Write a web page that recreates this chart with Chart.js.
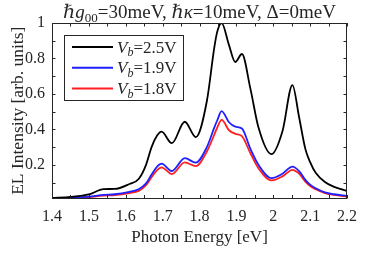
<!DOCTYPE html>
<html>
<head>
<meta charset="utf-8">
<script src="https://cdn.jsdelivr.net/npm/chart.js@4.4.1/dist/chart.umd.min.js"></script>
<style>
  html, body { margin: 0; padding: 0; background: #fff; }
  #wrap { width: 366px; height: 268px; }
</style>
</head>
<body>
<div id="wrap"><canvas id="myChart"></canvas></div>
<script>
// photon energy in eV (x axis)
var energy = [1.40, 1.45, 1.50, 1.54, 1.57, 1.61, 1.635, 1.655, 1.67, 1.685, 1.697, 1.725, 1.76, 1.79, 1.82, 1.84, 1.848,
              1.86, 1.88, 1.897, 1.915, 1.938, 1.96, 1.995, 2.025, 2.052, 2.07, 2.087, 2.10, 2.115, 2.14, 2.165, 2.20];
// EL intensity for each bias voltage
var vb25 = [0.013, 0.019, 0.033, 0.063, 0.064, 0.092, 0.12, 0.20, 0.30, 0.365, 0.387, 0.322, 0.443, 0.356, 0.56, 0.86, 0.95,
            1.0, 0.875, 0.78, 0.825, 0.63, 0.41, 0.26, 0.39, 0.65, 0.47, 0.29, 0.215, 0.155, 0.103, 0.076, 0.052];
var vb19 = [0.010, 0.013, 0.020, 0.031, 0.034, 0.048, 0.062, 0.095, 0.145, 0.19, 0.207, 0.165, 0.238, 0.212, 0.30, 0.41, 0.45,
            0.503, 0.44, 0.415, 0.405, 0.29, 0.20, 0.125, 0.15, 0.19, 0.165, 0.115, 0.088, 0.068, 0.045, 0.034, 0.025];
var vb18 = [0.008, 0.011, 0.017, 0.026, 0.029, 0.041, 0.053, 0.085, 0.13, 0.17, 0.186, 0.148, 0.214, 0.193, 0.275, 0.37, 0.41,
            0.453, 0.395, 0.375, 0.362, 0.265, 0.18, 0.112, 0.135, 0.172, 0.15, 0.105, 0.08, 0.062, 0.04, 0.03, 0.021];
var seriesVolts = ['2.5V', '1.9V', '1.8V'];
var seriesColors = ['#000000', '#1f1fff', '#ff1f1f'];

var xMajor = [1.4, 1.5, 1.6, 1.7, 1.8, 1.9, 2.0, 2.1, 2.2];
var xMinor = [1.45, 1.55, 1.65, 1.75, 1.85, 1.95, 2.05, 2.15];
var yMajor = [0.2, 0.4, 0.6, 0.8, 1.0];
var yMinor = [0.1, 0.3, 0.5, 0.7, 0.9];

var SERIF = '"Liberation Serif", "DejaVu Serif", serif';
var INK = '#262626';

function pts(ys) {
  return energy.map(function (e, i) { return { x: e, y: ys[i] }; });
}

// text made of pieces: '' normal, 'i' italic, 'sub' small lowered, 'isub' italic small lowered
function fontFor(style, size) {
  var small = style.indexOf('sub') >= 0;
  var it = style.indexOf('i') === 0;
  return (it ? 'italic ' : '') + (small ? Math.round(size * 0.7) : size) + 'px ' + SERIF;
}
function richWidth(ctx, parts, size) {
  var w = 0;
  parts.forEach(function (p) {
    ctx.font = fontFor(p[1], size);
    w += ctx.measureText(p[0]).width;
  });
  return w;
}
function drawRich(ctx, parts, x, y, size) {
  parts.forEach(function (p) {
    ctx.font = fontFor(p[1], size);
    var dy = p[1].indexOf('sub') >= 0 ? size * 0.22 : 0;
    ctx.fillText(p[0], x, y + dy);
    x += ctx.measureText(p[0]).width;
  });
}

var titleParts = [['ℏ', ''], ['g', 'i'], ['00', 'sub'], ['=30meV, ', ''], ['ℏ', ''], ['κ', 'i'], ['=10meV, Δ=0meV', '']];

var decor = {
  id: 'decor',
  afterDraw: function (chart) {
    var ctx = chart.ctx, a = chart.chartArea, x = chart.scales.x, y = chart.scales.y;
    ctx.save();
    ctx.strokeStyle = INK;
    ctx.lineWidth = 1;
    ctx.strokeRect(Math.round(a.left) + 0.5, Math.round(a.top) + 0.5,
                   Math.round(a.right - a.left) - 1, Math.round(a.bottom - a.top) - 1);
    ctx.beginPath();
    x.ticks.forEach(function (t) {
      var px = Math.round(x.getPixelForValue(t.value)) + 0.5;
      ctx.moveTo(px, a.bottom); ctx.lineTo(px, a.bottom - 3.5);
      ctx.moveTo(px, a.top); ctx.lineTo(px, a.top + 3.5);
    });
    y.ticks.forEach(function (t) {
      var py = Math.round(y.getPixelForValue(t.value)) + 0.5;
      ctx.moveTo(a.left, py); ctx.lineTo(a.left + 3.5, py);
      ctx.moveTo(a.right, py); ctx.lineTo(a.right - 3.5, py);
    });
    ctx.stroke();

    // title
    ctx.fillStyle = INK;
    ctx.textBaseline = 'alphabetic';
    var ts = 19;
    var tw = richWidth(ctx, titleParts, ts);
    drawRich(ctx, titleParts, (a.left + a.right) / 2 - tw / 2, 18, ts);

    // legend
    var lx = a.left + 12, ly = a.top + 12;
    ctx.fillStyle = '#fff';
    ctx.fillRect(lx, ly, 119, 65);
    ctx.strokeStyle = INK;
    ctx.strokeRect(lx + 0.5, ly + 0.5, 119, 65);
    chart.data.datasets.forEach(function (ds, i) {
      var ry = ly + 12 + i * 20.8;
      ctx.strokeStyle = ds.borderColor;
      ctx.lineWidth = 2;
      ctx.beginPath();
      ctx.moveTo(lx + 8, ry); ctx.lineTo(lx + 49, ry);
      ctx.stroke();
      ctx.fillStyle = INK;
      drawRich(ctx, [['V', 'i'], ['b', 'isub'], ['=' + seriesVolts[i], '']], lx + 53, ry + 5.5, 17);
    });
    ctx.restore();
  }
};

var ctx = document.getElementById('myChart').getContext('2d');
var myChart = new Chart(ctx, {
  type: 'line',
  data: {
    datasets: [vb25, vb19, vb18].map(function (ys, i) {
      return {
        label: 'Vb=' + seriesVolts[i],
        data: pts(ys),
        borderColor: seriesColors[i],
        borderWidth: 1.8,
        pointRadius: 0,
        cubicInterpolationMode: 'monotone',
        fill: false
      };
    })
  },
  options: {
    responsive: true,
    maintainAspectRatio: false,
    animation: false,
    layout: { padding: { top: 23, right: 14, bottom: 0, left: 0 } },
    plugins: { legend: { display: false }, tooltip: { enabled: false } },
    scales: {
      x: {
        type: 'linear',
        min: 1.4,
        max: 2.2,
        afterBuildTicks: function (s) {
          s.ticks = xMajor.concat(xMinor).sort(function (p, q) { return p - q; })
            .map(function (v) { return { value: v }; });
        },
        afterFit: function (s) { s.height = 69.5; },
        grid: { display: false, drawTicks: false },
        border: { display: false },
        ticks: {
          autoSkip: false,
          maxRotation: 0,
          padding: 9,
          color: INK,
          font: { family: SERIF, size: 16 },
          callback: function (v) {
            return xMajor.some(function (m) { return Math.abs(m - v) < 1e-6; }) ? String(+v.toFixed(1)) : '';
          }
        },
        title: {
          display: true,
          text: 'Photon Energy [eV]',
          color: INK,
          font: { family: SERIF, size: 17 },
          padding: { top: 0, bottom: 20 }
        }
      },
      y: {
        min: 0.01,
        max: 1,
        afterBuildTicks: function (s) {
          s.ticks = yMajor.concat(yMinor).sort(function (p, q) { return p - q; })
            .map(function (v) { return { value: v }; });
        },
        afterFit: function (s) { s.width = 52; },
        grid: { display: false, drawTicks: false },
        border: { display: false },
        ticks: {
          autoSkip: false,
          padding: 7,
          color: INK,
          font: { family: SERIF, size: 16 },
          callback: function (v) {
            return yMajor.some(function (m) { return Math.abs(m - v) < 1e-6; }) ? String(+v.toFixed(1)) : '';
          }
        },
        title: {
          display: true,
          text: 'EL Intensity [arb. units]',
          color: INK,
          font: { family: SERIF, size: 17.5 },
          padding: { top: 8, bottom: 0 }
        }
      }
    }
  },
  plugins: [decor]
});
</script>
</body>
</html>
